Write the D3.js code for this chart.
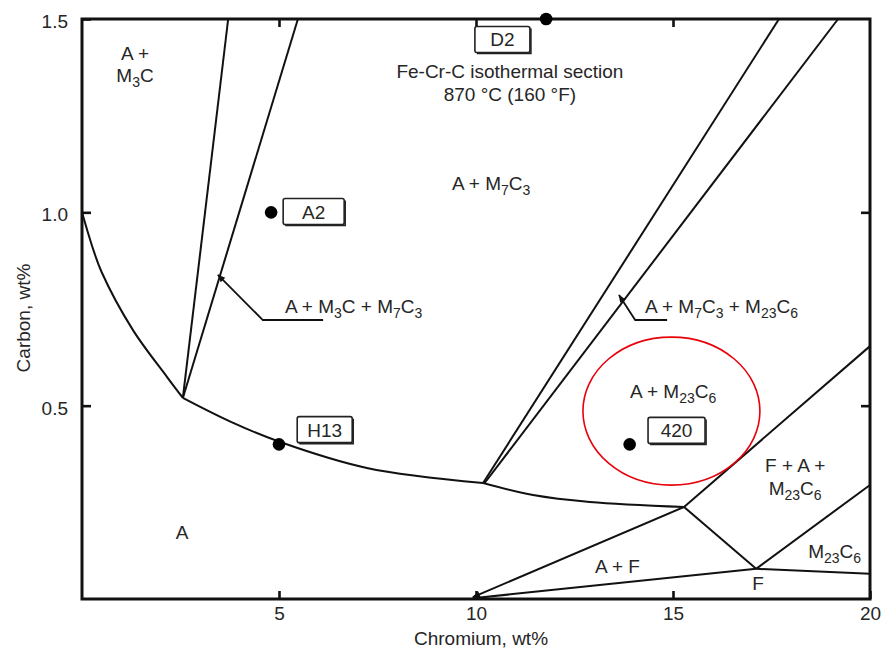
<!DOCTYPE html>
<html>
<head>
<meta charset="utf-8">
<script src="https://cdn.jsdelivr.net/npm/d3@7/dist/d3.min.js"></script>
<style>
  html, body { margin: 0; padding: 0; background: #fff; }
  svg { display: block; }
  text { font-family: "Liberation Sans", Arial, Helvetica, sans-serif; fill: #262626; }
</style>
</head>
<body>
<svg id="chart" width="889" height="652"></svg>
<script>
// ---- Fe-Cr-C isothermal section, 870 °C: data (Cr wt%, C wt%) ----
const crTicks = [5, 10, 15, 20];
const cTicks = [0.5, 1.0, 1.5];
const innerCrTicks = [5, 10, 15];
const innerCTicks = [0.5, 1.0];

// austenite (A) solubility boundary, split at the three-phase corners
const austeniteLowC = [[0, 1.0], [0.25, 0.915], [0.5, 0.845], [1.29, 0.696], [2.16, 0.574], [2.56, 0.520]];
const austeniteMidC = [[2.56, 0.520], [3.78, 0.458], [5.03, 0.406], [7.23, 0.339], [10.18, 0.300]];
const austeniteHighCr = [[10.18, 0.300], [11.45, 0.269], [12.89, 0.251], [15.28, 0.238]];

// straight tie-triangle / phase-field edges: [start, end]
const phaseEdges = [
  [[2.56, 0.520], [3.71, 1.5]],
  [[2.56, 0.520], [5.48, 1.5]],
  [[10.18, 0.300], [17.69, 1.5]],
  [[10.22, 0.300], [19.19, 1.5]],
  [[15.28, 0.238], [20, 0.654]],
  [[15.28, 0.238], [17.11, 0.078]],
  [[17.11, 0.078], [20, 0.295]],
  [[17.11, 0.078], [20, 0.065]]
];

// A / (A + F) and (A + F) / F boundaries
const ferriteUpper = [[15.28, 0.238], [9.92, 0.005]];
const ferriteLower = [[17.11, 0.078], [9.92, 0.002]];

// tool-steel compositions
const steelNames = ["D2", "A2", "H13", "420"];
const steelCr = [11.78, 4.8, 5.0, 13.9];
const steelC = [1.5, 1.0, 0.40, 0.40];

// phase-field names ("_n" marks a subscript)
const fieldNames = ["A +", "M_3C", "A + M_7C_3", "A + M_23C_6", "F + A +", "M_23C_6", "M_23C_6", "A + F", "F", "A"];
const titleLines = ["Fe-Cr-C isothermal section", "870 °C (160 °F)"];
const leaderTexts = ["A + M_3C + M_7C_3", "A + M_7C_3 + M_23C_6"];

// ---- layout ----
const W = 889, H = 652;
const x = d3.scaleLinear().domain([0, 20]).range([82, 870]);
const y = d3.scaleLinear().domain([0, 1.5]).range([599, 19]);

const fieldPos = [
  { cr: 1.345, c: 1.394, anchor: "middle" },
  { cr: 1.345, c: 1.337, anchor: "middle" },
  { cr: 9.39, c: 1.058, anchor: "start" },
  { cr: 13.91, c: 0.520, anchor: "start" },
  { cr: 18.10, c: 0.328, anchor: "middle" },
  { cr: 18.10, c: 0.269, anchor: "middle" },
  { cr: 18.43, c: 0.106, anchor: "start" },
  { cr: 13.02, c: 0.067, anchor: "start" },
  { cr: 17.16, c: 0.023, anchor: "middle" },
  { cr: 2.54, c: 0.155, anchor: "middle" }
];
const titlePos = [{ cr: 10.86, c: 1.347 }, { cr: 10.86, c: 1.288 }];
const tagPos = [
  { cr: 10.67, c: 1.447, w: 55 },
  { cr: 5.88, c: 1.002, w: 61 },
  { cr: 6.16, c: 0.438, w: 55 },
  { cr: 15.09, c: 0.436, w: 57 }
];
const leaders = [
  { path: [[6.12, 0.7215], [4.59, 0.7215], [3.45, 0.838]], text: [5.15, 0.740] },
  { path: [[14.85, 0.7215], [14.04, 0.7215], [13.63, 0.786]], text: [14.29, 0.740] }
];
const highlight = { cr: 14.96, c: 0.486, rx: 88.5, ry: 74 };

const svg = d3.select("#chart");
svg.append("rect").attr("width", W).attr("height", H).attr("fill", "#fff");

const defs = svg.append("defs");
defs.append("marker")
  .attr("id", "arrow")
  .attr("viewBox", "0 0 10 10")
  .attr("refX", 9).attr("refY", 5)
  .attr("markerUnits", "userSpaceOnUse")
  .attr("markerWidth", 12).attr("markerHeight", 8)
  .attr("orient", "auto")
  .append("path").attr("d", "M0,1 L10,5 L0,9 Z").attr("fill", "#111");

// text with subscripts
function richText(sel, str, size, subSize) {
  const parts = str.split(/(_\d+)/);
  let shift = 0;
  parts.forEach(p => {
    if (!p) return;
    const isSub = p[0] === "_";
    const t = sel.append("tspan").text(isSub ? p.slice(1) : p);
    const target = isSub ? 5 : 0;
    if (target !== shift) t.attr("dy", target - shift);
    shift = target;
    t.attr("font-size", isSub ? subSize : size);
  });
}

const FS = 19, SUB = 14;

// axes
const gx = svg.append("g").attr("transform", `translate(0,${y(0)})`)
  .call(d3.axisBottom(x).tickValues(crTicks).tickSize(-8).tickPadding(8).tickFormat(d3.format("d")));
const gxt = svg.append("g").attr("transform", `translate(0,${y(1.5)})`)
  .call(d3.axisTop(x).tickValues(innerCrTicks).tickSize(-8).tickFormat(""));
const gy = svg.append("g").attr("transform", `translate(${x(0)},0)`)
  .call(d3.axisLeft(y).tickValues(cTicks).tickSize(-9).tickPadding(14).tickFormat(d3.format(".1f")));
const gyr = svg.append("g").attr("transform", `translate(${x(20)},0)`)
  .call(d3.axisRight(y).tickValues(innerCTicks).tickSize(-9).tickFormat(""));
[gx, gxt, gy, gyr].forEach(g => {
  g.select(".domain").remove();
  g.selectAll(".tick line").attr("stroke", "#111").attr("stroke-width", 2.6);
  g.selectAll(".tick text").attr("font-size", FS).attr("fill", "#262626")
    .style("font-family", '"Liberation Sans", Arial, Helvetica, sans-serif');
});
gy.selectAll(".tick text").attr("dy", "0.45em");

// frame
svg.append("rect")
  .attr("x", x(0)).attr("y", y(1.5))
  .attr("width", x(20) - x(0)).attr("height", y(0) - y(1.5))
  .attr("fill", "none").attr("stroke", "#111").attr("stroke-width", 3);

// boundaries
const curve = d3.line().x(d => x(d[0])).y(d => y(d[1])).curve(d3.curveCatmullRom.alpha(0.5));
const straight = d3.line().x(d => x(d[0])).y(d => y(d[1]));
const lines = svg.append("g").attr("fill", "none").attr("stroke", "#111").attr("stroke-width", 2)
  .attr("stroke-linejoin", "round");
[austeniteLowC, austeniteMidC, austeniteHighCr].forEach(seg => lines.append("path").attr("d", curve(seg)));
phaseEdges.forEach(seg => lines.append("path").attr("d", straight(seg)));
lines.append("path").attr("d", straight(ferriteUpper)).attr("marker-end", "url(#arrow)");
lines.append("path").attr("d", straight(ferriteLower));

// leader lines
leaders.forEach((l, i) => {
  svg.append("path").attr("d", straight(l.path))
    .attr("fill", "none").attr("stroke", "#111").attr("stroke-width", 1.8)
    .attr("marker-end", "url(#arrow)");
  const t = svg.append("text").attr("x", x(l.text[0])).attr("y", y(l.text[1]));
  richText(t, leaderTexts[i], FS, SUB);
});

// phase-field labels
fieldNames.forEach((name, i) => {
  const p = fieldPos[i];
  const t = svg.append("text").attr("x", x(p.cr)).attr("y", y(p.c)).attr("text-anchor", p.anchor);
  richText(t, name, FS, SUB);
});

// title
titleLines.forEach((s, i) => {
  svg.append("text").attr("x", x(titlePos[i].cr)).attr("y", y(titlePos[i].c))
    .attr("text-anchor", "middle").attr("font-size", FS).text(s);
});

// steel tags
steelNames.forEach((name, i) => {
  const p = tagPos[i];
  const cx = x(p.cr), cy = y(p.c), w = p.w, h = 26;
  const g = svg.append("g");
  g.append("path")
    .attr("d", `M${cx + w / 2 + 1},${cy - h / 2 + 2} V${cy + h / 2 + 1} H${cx - w / 2 + 2}`)
    .attr("fill", "none").attr("stroke", "#222").attr("stroke-width", 1.6);
  g.append("rect").attr("x", cx - w / 2).attr("y", cy - h / 2).attr("width", w).attr("height", h)
    .attr("rx", 2).attr("fill", "#fff").attr("stroke", "#222").attr("stroke-width", 1.6);
  g.append("text").attr("x", cx).attr("y", cy + 7).attr("text-anchor", "middle")
    .attr("font-size", FS).text(name);
});

// steel composition points
svg.append("g").selectAll("circle").data(steelNames).join("circle")
  .attr("cx", (d, i) => x(steelCr[i])).attr("cy", (d, i) => y(steelC[i]))
  .attr("r", 6.3).attr("fill", "#000");

// highlighted field
svg.append("ellipse")
  .attr("cx", x(highlight.cr)).attr("cy", y(highlight.c))
  .attr("rx", highlight.rx).attr("ry", highlight.ry)
  .attr("fill", "none").attr("stroke", "#e8000b").attr("stroke-width", 1.6);

// axis titles
svg.append("text").attr("x", (x(0) + x(20)) / 2 + 5).attr("y", 645)
  .attr("text-anchor", "middle").attr("font-size", FS).text("Chromium, wt%");
svg.append("text").attr("transform", `translate(30,${318}) rotate(-90)`)
  .attr("text-anchor", "middle").attr("font-size", FS).text("Carbon, wt%");
</script>
</body>
</html>
